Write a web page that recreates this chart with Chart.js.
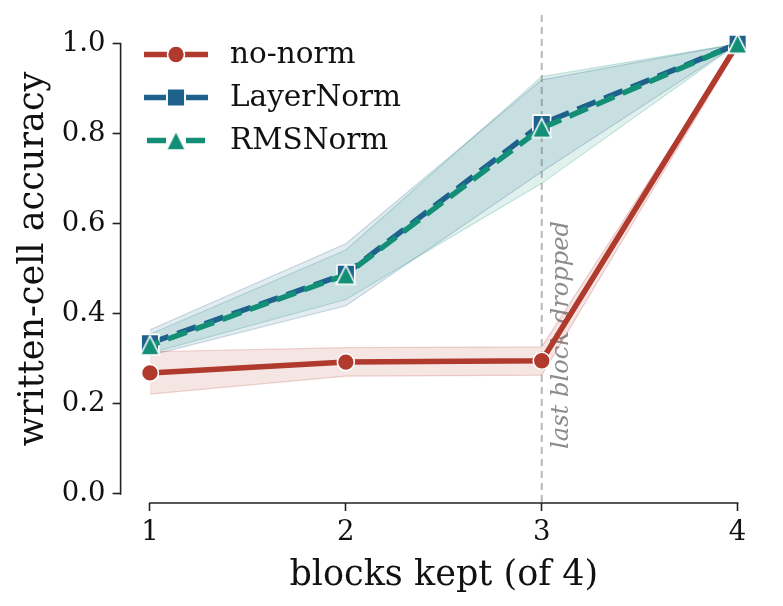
<!DOCTYPE html>
<html><head><meta charset="utf-8">
<script src="https://cdn.jsdelivr.net/npm/chart.js@4.4.1/dist/chart.umd.min.js"></script>
<style>html,body{margin:0;padding:0;background:#fff}#wrap{width:783px;height:606px}</style>
</head><body><div id="wrap"><canvas id="c" width="783" height="606"></canvas></div>
<script>
// ---------- data ----------
const blocksKept = [1, 2, 3, 4];
const xTicks = [1, 2, 3, 4];
const yTicks = [0, 0.2, 0.4, 0.6, 0.8, 1.0];
const seriesNames = ['no-norm', 'LayerNorm', 'RMSNorm'];
const noNorm     = [0.269, 0.293, 0.296, 1.000];
const noNormLo   = [0.222, 0.262, 0.264, 0.990];
const noNormHi   = [0.316, 0.325, 0.327, 1.000];
const layerNorm   = [0.335, 0.489, 0.822, 1.000];
const layerNormLo = [0.308, 0.418, 0.716, 1.000];
const layerNormHi = [0.365, 0.556, 0.920, 1.000];
const rmsNorm   = [0.330, 0.487, 0.813, 1.000];
const rmsNormLo = [0.313, 0.432, 0.690, 1.000];
const rmsNormHi = [0.355, 0.542, 0.927, 1.000];
const refLineX = 3;
const refLabel = 'last block dropped';
const xTitle = 'blocks kept (of 4)';
const yTitle = 'written-cell accuracy';

// ---------- styles ----------
const FONT = "'DejaVu Serif', serif";
const RED = '#B03A2E', BLUE = '#1F618D', GREEN = '#148F77';
function rgba(hex, a) {
  const n = parseInt(hex.slice(1), 16);
  return `rgba(${n >> 16},${(n >> 8) & 255},${n & 255},${a})`;
}
function tri(color) {
  const c = document.createElement('canvas');
  const s = 9.5, pad = 2, size = Math.ceil(2 * s + 2 * pad);
  c.width = size; c.height = size;
  const g = c.getContext('2d');
  const cx = size / 2, cy = size / 2;
  g.beginPath();
  g.moveTo(cx, cy - s); g.lineTo(cx + s, cy + s); g.lineTo(cx - s, cy + s); g.closePath();
  g.fillStyle = color; g.fill();
  g.lineWidth = 1.6; g.strokeStyle = '#fff'; g.lineJoin = 'miter'; g.stroke();
  return c;
}
const triGreen = tri(GREEN);

const pts = arr => arr.map((v, i) => ({x: blocksKept[i], y: v}));
function band(lo, hi, color) {
  return [
    {data: pts(hi), borderColor: rgba(color, 0.22), borderWidth: 1.2, pointRadius: 0, fill: false, order: 10, tension: 0},
    {data: pts(lo), borderColor: rgba(color, 0.22), borderWidth: 1.2, pointRadius: 0, fill: '-1', backgroundColor: rgba(color, 0.13), order: 10, tension: 0}
  ];
}
const lineSets = [
  {label: seriesNames[0], data: pts(noNorm), borderColor: RED, backgroundColor: RED, borderWidth: 5.5,
   pointStyle: 'circle', pointRadius: 8.5, pointBorderColor: '#fff', pointBorderWidth: 1.6, pointBackgroundColor: RED, order: 3, fill: false, tension: 0,
   legendSegs: [[144, 208]]},
  {label: seriesNames[1], data: pts(layerNorm), borderColor: BLUE, backgroundColor: BLUE, borderWidth: 5.5, borderDash: [20, 9],
   pointStyle: 'rect', pointRadius: 12.5, pointBorderColor: '#fff', pointBorderWidth: 1.6, pointBackgroundColor: BLUE, order: 2, fill: false, tension: 0,
   legendSegs: [[144, 166], [186, 208]]},
  {label: seriesNames[2], data: pts(rmsNorm), borderColor: GREEN, backgroundColor: GREEN, borderWidth: 5.5, borderDash: [20, 9], borderDashOffset: 10,
   pointStyle: triGreen, pointRadius: 10, pointBorderColor: '#fff', pointBorderWidth: 1.6, pointBackgroundColor: GREEN, order: 1, fill: false, tension: 0,
   legendSegs: [[147, 166], [186, 205]]}
];
const datasets = [
  ...band(noNormLo, noNormHi, RED),
  ...band(layerNormLo, layerNormHi, BLUE),
  ...band(rmsNormLo, rmsNormHi, GREEN),
  ...lineSets
];

const decor = {
  id: 'decor',
  beforeDatasetsDraw(chart) {
    const {ctx, chartArea: a, scales: {x, y}} = chart;
    const px = x.getPixelForValue(refLineX);
    ctx.save();
    ctx.strokeStyle = 'rgba(160,160,160,0.75)';
    ctx.lineWidth = 2;
    ctx.setLineDash([7, 5]);
    ctx.beginPath(); ctx.moveTo(px, a.top); ctx.lineTo(px, a.bottom); ctx.stroke();
    ctx.setLineDash([]);
    ctx.translate(x.getPixelForValue(refLineX + 0.134), y.getPixelForValue(0.1));
    ctx.rotate(-Math.PI / 2);
    ctx.font = `italic 24.2px ${FONT}`;
    ctx.fillStyle = '#8c8c8c';
    ctx.textAlign = 'left'; ctx.textBaseline = 'alphabetic';
    ctx.fillText(refLabel, 0, 0);
    ctx.restore();
  },
  afterDraw(chart) {
    const {ctx, chartArea: a, scales: {x, y}} = chart;
    ctx.save();
    ctx.strokeStyle = '#222'; ctx.lineWidth = 1.6; ctx.lineCap = 'butt';
    ctx.beginPath();
    ctx.moveTo(a.left, y.getPixelForValue(yTicks[0]) + 0.8);
    ctx.lineTo(a.left, y.getPixelForValue(yTicks[yTicks.length - 1]) - 0.8);
    ctx.moveTo(x.getPixelForValue(xTicks[0]) - 0.8, a.bottom);
    ctx.lineTo(x.getPixelForValue(xTicks[xTicks.length - 1]) + 0.8, a.bottom);
    ctx.stroke();
    // legend
    const rows = [54.5, 97.5, 140.5];
    const mx = 176, tx = 230;
    lineSets.forEach((ds, i) => {
      const ry = rows[i];
      ctx.save();
      ctx.strokeStyle = ds.borderColor; ctx.lineWidth = ds.borderWidth;
      ctx.beginPath();
      ds.legendSegs.forEach(([s0, s1]) => { ctx.moveTo(s0, ry); ctx.lineTo(s1, ry); });
      ctx.stroke();
      ctx.restore();
      if (typeof ds.pointStyle === 'string') {
        ctx.save();
        ctx.fillStyle = ds.pointBackgroundColor; ctx.strokeStyle = '#fff'; ctx.lineWidth = ds.pointBorderWidth;
        Chart.helpers.drawPoint(ctx, {pointStyle: ds.pointStyle, radius: ds.pointRadius, borderWidth: ds.pointBorderWidth, rotation: 0}, mx, ry);
        ctx.restore();
      } else {
        const im = ds.pointStyle;
        ctx.drawImage(im, mx - im.width / 2, ry - im.height / 2);
      }
      ctx.fillStyle = '#111';
      ctx.font = `29.5px ${FONT}`;
      ctx.textAlign = 'left'; ctx.textBaseline = 'middle';
      ctx.fillText(ds.label, tx, ry + 1);
    });
    ctx.restore();
  }
};

Chart.defaults.font.family = FONT;
new Chart(document.getElementById('c'), {
  type: 'line',
  data: {datasets},
  options: {
    responsive: false,
    animation: false,
    layout: {padding: {left: 0, right: 16, top: 15, bottom: 0}},
    plugins: {legend: {display: false}, tooltip: {enabled: false}},
    scales: {
      x: {
        type: 'linear', min: 0.85, max: 4.15,
        afterBuildTicks: s => { s.ticks = xTicks.map(v => ({value: v})); },
        afterFit: s => { s.height = 103; s.paddingLeft = 0; s.paddingRight = 0; },
        grid: {display: true, drawOnChartArea: false, drawTicks: true, tickLength: 8, tickWidth: 1.6, tickColor: '#222'},
        border: {display: false},
        ticks: {font: {size: 27.5}, color: '#111', padding: 5, maxRotation: 0, callback: v => String(v)},
        title: {display: true, text: xTitle, font: {size: 35, lineHeight: 1.2}, color: '#111', padding: {top: 0, bottom: 9}}
      },
      y: {
        type: 'linear', min: -0.02, max: 1.064,
        afterBuildTicks: s => { s.ticks = yTicks.map(v => ({value: v})); },
        afterFit: s => { s.width = 120.6; s.paddingTop = 0; s.paddingBottom = 0; },
        grid: {display: true, drawOnChartArea: false, drawTicks: true, tickLength: 8, tickWidth: 1.6, tickColor: '#222'},
        border: {display: false},
        ticks: {font: {size: 27.5}, color: '#111', padding: 7, callback: v => v.toFixed(1)},
        title: {display: true, text: yTitle, font: {size: 35, lineHeight: 1.2}, color: '#111', padding: {top: 13, bottom: 0}}
      }
    }
  },
  plugins: [decor]
});
</script></body></html>
